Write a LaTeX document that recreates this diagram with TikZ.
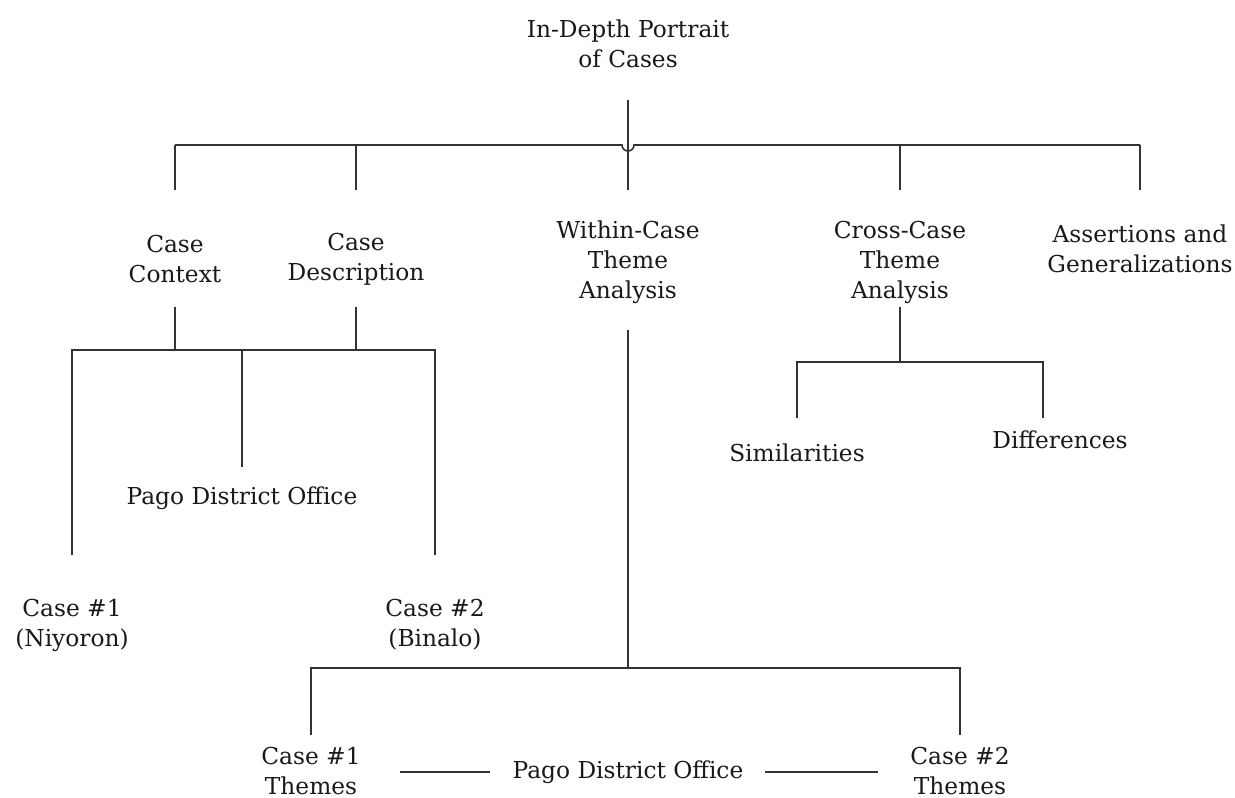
\documentclass[tikz,border=0pt]{standalone}
\usepackage{fontspec}
\setmainfont{DejaVu Serif}
\begin{document}
\begin{tikzpicture}[x=1pt,y=-1pt,
  lbl/.style={align=center,inner sep=0pt,text=black!90,
    font=\fontsize{23.3}{30}\selectfont},
  wire/.style={draw=black!80,line width=1.6pt}]
\useasboundingbox[fill=white] (0,0) rectangle (1235,798);

% labels
\node[lbl] (title)  at (628,44)  {In-Depth Portrait\\of Cases};
\node[lbl] (ctx)    at (175,259) {Case\\Context};
\node[lbl] (desc)   at (356,259) {Case\\Description};
\node[lbl] (within) at (628,262) {Within-Case\\Theme\\Analysis};
\node[lbl] (cross)  at (900,262) {Cross-Case\\Theme\\Analysis};
\node[lbl] (assert) at (1140,249) {Assertions and\\Generalizations};
\node[lbl] (pago1)  at (242,498) {Pago District Office};
\node[lbl] (case1)  at (72,625)  {Case \#1\\(Niyoron)};
\node[lbl] (case2)  at (435,625) {Case \#2\\(Binalo)};
\node[lbl] (sim)    at (797,453) {Similarities};
\node[lbl] (diff)   at (1060,440) {Differences};
\node[lbl] (th1)    at (311,771) {Case \#1\\Themes};
\node[lbl] (pago2)  at (628,772) {Pago District Office};
\node[lbl] (th2)    at (960,771) {Case \#2\\Themes};

% line ends
\coordinate (t0) at (628,100);
\coordinate (b1) at (628,145);
\coordinate (t1) at (628,190);
\coordinate (L1) at (175,145);
\coordinate (R1) at (1140,145);
\coordinate (w0) at (628,330);
\coordinate (w1) at (628,668);
\coordinate (cr0) at (900,307);
\coordinate (cr1) at (900,362);
\coordinate (cx0) at (175,307);
\coordinate (cd0) at (356,307);
\coordinate (b2) at (242,350);

% top bus with a hop over the trunk
\draw[wire] (t0) -- (t1);
\draw[wire] (L1) -- ([xshift=-6]b1) arc[start angle=180,end angle=0,radius=6]
  -- (R1);
\draw[wire] (L1) -- (L1 |- t1);
\draw[wire] (356,145) -- (356,190);
\draw[wire] (900,145) -- (900,190);
\draw[wire] (R1) -- (R1 |- t1);

% context / description branch
\draw[wire] (cx0) -- (cx0 |- b2);
\draw[wire] (cd0) -- (cd0 |- b2);
\draw[wire] (case1 |- 0,555) -- (case1 |- b2) -- (case2 |- b2) -- (case2 |- 0,555);
\draw[wire] (b2) -- (242,467);

% cross-case branch
\draw[wire] (cr0) -- (cr1);
\draw[wire] (797,418) -- (797,362) -- (1043,362) -- (1043,418);

% within-case branch
\draw[wire] (w0) -- (w1);
\draw[wire] (th1 |- 0,735) -- (th1 |- w1) -- (th2 |- w1) -- (th2 |- 0,735);
\draw[wire] (400,772) -- (490,772);
\draw[wire] (765,772) -- (878,772);
\end{tikzpicture}
\end{document}
